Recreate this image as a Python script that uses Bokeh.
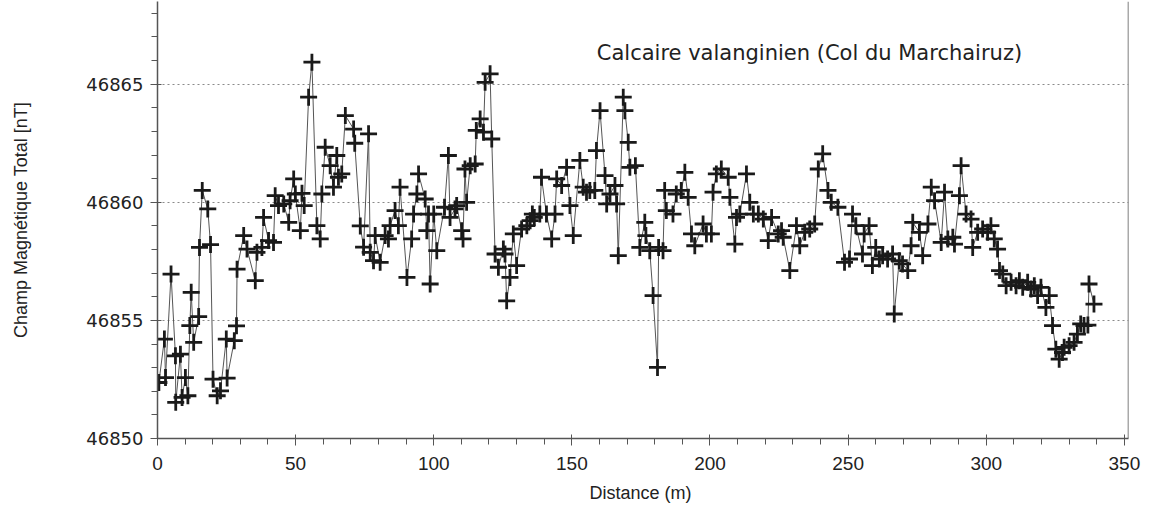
from bokeh.plotting import figure
from bokeh.models import Label, Span, FixedTicker, Range1d
from bokeh.embed import file_html
from bokeh.resources import INLINE

title_text = "Calcaire valanginien (Col du Marchairuz)"
x_label = "Distance  (m)"
y_label = "Champ Magnétique Total [nT]"

x_ticks = [0, 50, 100, 150, 200, 250, 300, 350]
y_ticks = [46850, 46855, 46860, 46865]

distance_m = [
    0.5, 2.5, 2.9, 4.9, 6.5, 6.6, 8.3, 8.9, 10.1, 11.0, 11.7, 12.2, 13.1, 14.9, 15.2, 16.2,
    18.2, 19.2, 20.1, 21.6, 22.8, 24.9, 25.2, 27.8, 28.6, 28.8, 31.2, 32.4,
    35.4, 36.0, 37.8, 38.4, 40.2, 42.0, 42.6, 43.8, 45.7, 47.5, 48.0, 49.3, 49.9, 51.7,
    52.3, 53.1, 54.7, 55.9, 57.7, 58.9, 59.5, 60.7, 62.5, 63.7, 64.9, 65.5, 66.7, 68.0,
    71.0, 71.4, 73.4, 74.6, 76.4, 77.0, 78.2, 78.8, 80.6, 82.4, 83.6, 84.2, 86.0, 87.2,
    87.8, 90.3, 92.0, 92.7, 93.9, 94.5, 96.9, 97.5, 98.1, 98.7, 100.0, 101.1,
    103.9, 105.3, 105.9, 107.7, 108.3, 110.1, 110.6, 111.3, 111.9, 113.2, 115.0, 115.4,
    116.8, 118.0, 118.6, 120.4, 121.0, 122.2, 123.4, 125.2, 125.8, 126.4, 127.6, 128.8,
    130.0, 131.8, 133.7, 134.9, 135.7,
    136.4, 138.4, 139.0, 140.8, 142.7, 143.9, 144.5, 146.3, 148.1, 149.3, 150.5, 152.9,
    154.1, 155.3, 156.5, 158.3, 158.9, 160.2, 162.0, 162.6, 163.8, 165.6, 166.2, 166.8,
    168.6, 169.2, 170.4, 171.0,
    173.0, 174.6, 176.4, 176.8, 178.2, 179.4, 181.0, 181.4, 183.0, 183.6, 184.2, 186.6,
    187.8, 189.6, 190.9, 192.1, 193.3, 194.5, 197.5, 198.7, 200.5, 201.1, 202.3, 204.1,
    206.6, 207.2, 209.0, 209.6, 210.8, 213.2, 214.4, 215.7, 217.5, 219.3, 221.1, 222.3,
    224.7, 225.9, 226.5, 228.9, 231.3, 232.5, 234.3, 236.1, 237.9, 239.2, 240.8,
    242.7, 243.9, 246.3, 248.7, 250.5, 251.6, 252.8, 255.2, 255.8, 257.6, 258.8, 260.0,
    261.3, 262.5, 264.3, 266.1, 266.7, 268.5, 269.7, 271.6, 272.8, 273.4,
    275.8, 277.0, 278.9, 280.1, 281.3, 283.7, 284.9, 286.1, 287.9, 288.5, 290.3, 290.9,
    292.7, 294.5, 295.1, 296.9, 298.7, 300.5, 301.7, 302.9, 304.1, 304.8, 306.0, 307.2,
    309.0, 310.8, 312.0, 313.2, 315.0, 316.2, 317.4, 318.6, 319.8, 321.6, 322.8, 324.0,
    325.2, 326.4, 327.6, 328.2, 330.0, 331.8, 333.0, 334.2, 335.4, 336.8, 337.2, 339.0,
]

field_nT = [
    46852.37, 46854.21, 46852.58, 46856.96, 46853.50, 46851.53, 46853.57, 46851.74, 46852.58,
    46851.81, 46854.78, 46856.19, 46854.07, 46855.16, 46858.09, 46860.50,
    46859.72, 46858.21, 46852.51, 46851.81, 46852.02, 46854.21, 46852.56, 46854.14, 46854.77,
    46857.17, 46858.59, 46858.02,
    46856.68, 46857.88, 46858.09, 46859.36, 46858.38, 46858.30, 46860.28, 46859.86, 46859.93,
    46859.15, 46860.07, 46860.99, 46860.35, 46858.80,
    46860.38, 46859.86, 46864.45, 46865.93, 46859.01, 46858.45, 46860.35, 46862.33, 46861.55,
    46860.64, 46861.98, 46861.06, 46861.20, 46863.67,
    46863.10, 46862.50, 46859.00, 46858.10, 46862.90, 46857.88, 46857.53, 46858.59, 46857.46,
    46858.59, 46858.45, 46859.01, 46859.65, 46859.01,
    46860.64, 46856.82, 46858.45, 46859.50, 46860.35, 46861.20, 46860.14, 46858.80, 46859.50,
    46856.54, 46859.50, 46857.95,
    46859.79, 46861.98, 46859.36, 46859.72, 46859.86, 46858.80, 46858.45, 46861.41, 46860.00,
    46861.55, 46861.62, 46863.04,
    46863.53, 46862.97, 46865.08, 46865.44, 46862.68, 46857.81, 46857.25, 46858.02, 46857.81,
    46855.83, 46856.82, 46858.66,
    46857.32, 46858.87, 46859.01, 46859.22, 46859.50,
    46859.36, 46859.50, 46861.06, 46859.50, 46858.45, 46859.50, 46860.99, 46860.71, 46861.48,
    46859.86, 46858.59, 46861.77,
    46860.64, 46860.43, 46860.50, 46860.50, 46862.19, 46863.88, 46861.13, 46859.93, 46860.35,
    46860.71, 46859.93, 46857.74,
    46864.45, 46863.88, 46862.54, 46861.48,
    46861.55, 46858.09, 46859.15, 46858.59, 46857.95, 46856.05, 46853.01, 46858.09, 46857.95,
    46860.50, 46859.65, 46859.50,
    46860.35, 46860.50, 46861.27, 46860.21, 46858.66, 46858.16, 46859.08, 46858.66, 46858.66,
    46860.43, 46861.20, 46861.41,
    46861.06, 46860.21, 46858.23, 46859.36, 46859.50, 46861.20, 46860.00, 46859.50, 46859.50,
    46859.29, 46858.38, 46859.36,
    46858.66, 46858.80, 46858.52, 46857.11, 46859.01, 46858.16, 46858.73, 46858.87, 46859.08,
    46861.41, 46862.05,
    46860.50, 46860.00, 46859.79, 46857.46, 46857.60, 46859.50, 46859.01, 46857.81, 46858.66,
    46859.01, 46857.32, 46858.09,
    46857.60, 46857.74, 46857.60, 46857.81, 46855.27, 46857.53, 46857.39, 46857.11, 46858.16,
    46859.15,
    46858.73, 46857.74, 46859.08, 46860.64, 46860.07, 46858.30, 46860.43, 46858.45, 46858.52,
    46858.23, 46860.28, 46861.55,
    46859.50, 46859.29, 46858.09, 46858.73, 46858.87, 46858.73, 46859.01, 46858.45, 46858.02,
    46857.11, 46856.96, 46856.47,
    46856.61, 46856.47, 46856.68, 46856.40, 46856.61, 46856.33, 46856.47, 46856.05, 46856.40,
    46855.55, 46856.05, 46854.78,
    46853.78, 46853.36, 46853.64, 46853.86, 46853.93, 46854.07, 46854.42, 46854.85, 46854.78,
    46854.80, 46856.54, 46855.69,
]

NARROW = "'Liberation Sans Narrow', 'Liberation Sans', sans-serif"

p = figure(width=1153, height=508, output_backend="svg", toolbar_location=None,
           x_range=Range1d(0, 351.5), y_range=Range1d(46850, 46868.5),
           min_border_left=157, min_border_right=25, min_border_top=1, min_border_bottom=70)
p.outline_line_color = None
p.background_fill_color = "white"
p.border_fill_color = "white"

p.line(distance_m, field_nT, line_color="#555555", line_width=1)
p.scatter(distance_m, field_nT, marker="cross", size=17, line_color="#1a1a1a", line_width=2.8)

p.xgrid.grid_line_color = None
p.ygrid.ticker = FixedTicker(ticks=y_ticks[1:])
p.ygrid.grid_line_color = "#8a8a8a"
p.ygrid.grid_line_dash = "2 3"
p.ygrid.grid_line_width = 1

p.xaxis.ticker = FixedTicker(ticks=x_ticks, minor_ticks=list(range(0, 351, 10)))
p.yaxis.ticker = FixedTicker(ticks=y_ticks, minor_ticks=list(range(46850, 46869)))

for ax in (p.xaxis[0], p.yaxis[0]):
    ax.axis_line_color = "#555555"
    ax.axis_line_width = 1.5
    ax.major_tick_line_color = "#555555"
    ax.minor_tick_line_color = "#555555"
    ax.major_tick_in = 4
    ax.major_tick_out = 7
    ax.minor_tick_in = 0
    ax.minor_tick_out = 6
    ax.major_label_text_color = "#222222"
    ax.axis_label_text_color = "#222222"
    ax.axis_label_text_font_style = "normal"

p.yaxis.major_label_text_font = "'DejaVu Sans', sans-serif"
p.yaxis.major_label_text_font_size = "18px"
p.yaxis.major_label_standoff = 7
p.yaxis.axis_label = y_label
p.yaxis.axis_label_text_font = NARROW
p.yaxis.axis_label_text_font_size = "18px"
p.yaxis.axis_label_standoff = 52

p.xaxis.major_label_text_font = NARROW
p.xaxis.major_label_text_font_size = "19px"
p.xaxis.major_label_standoff = 11
p.xaxis.axis_label = x_label
p.xaxis.axis_label_text_font = NARROW
p.xaxis.axis_label_text_font_size = "18px"
p.xaxis.axis_label_standoff = 10

right_border = Span(location=351.5, dimension="height", line_color="#555555", line_width=1.5)
p.add_layout(right_border)

p.add_layout(Label(x=236, y=46866.3, text=title_text, text_align="center",
                   text_baseline="middle", text_font="'DejaVu Sans', sans-serif",
                   text_font_size="21px", text_color="#222222"))

open("out.html", "w").write(file_html(p, INLINE))
